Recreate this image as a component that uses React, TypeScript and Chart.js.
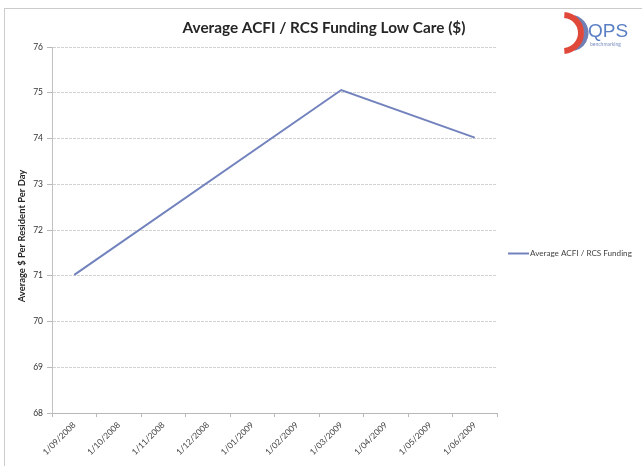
import React, { useEffect, useRef } from "react";
import { Chart, registerables } from "chart.js";

Chart.register(...registerables);

const TITLE = "Average ACFI / RCS Funding Low Care ($)";
const Y_TITLE = "Average $ Per Resident Per Day";
const SERIES_NAME = "Average ACFI / RCS Funding";
const months = [
  "1/09/2008", "1/10/2008", "1/11/2008", "1/12/2008", "1/01/2009",
  "1/02/2009", "1/03/2009", "1/04/2009", "1/05/2009", "1/06/2009",
];
const funding: (number | null)[] = [71.02, null, null, null, null, null, 75.06, null, null, 74.02];
const Y_MIN = 68;
const Y_MAX = 76;

const LINE_COLOR = "#7282bd";
const FONT = "Lato, 'Open Sans', sans-serif";

function fitFont(ctx: CanvasRenderingContext2D, text: string, weight: string, target: number) {
  ctx.font = `${weight} 20px ${FONT}`;
  const w = ctx.measureText(text).width;
  return (20 * target) / w;
}

const decor = {
  id: "decor",
  afterDraw(chart: any) {
    const ctx: CanvasRenderingContext2D = chart.ctx;
    ctx.save();
    // outer frame
    ctx.strokeStyle = "#cccccc";
    ctx.lineWidth = 1;
    ctx.strokeRect(4.5, 8.5, 640, 460);

    // title
    const ts = fitFont(ctx, TITLE, "bold", 283);
    ctx.font = `bold ${ts}px ${FONT}`;
    ctx.fillStyle = "#262626";
    ctx.textAlign = "center";
    ctx.textBaseline = "middle";
    ctx.fillText(TITLE, 324, 28);

    // y-axis title
    const ys = fitFont(ctx, Y_TITLE, "bold", 133);
    ctx.save();
    ctx.translate(22, 236);
    ctx.rotate(-Math.PI / 2);
    ctx.font = `bold ${ys}px ${FONT}`;
    ctx.fillStyle = "#262626";
    ctx.fillText(Y_TITLE, 0, 0);
    ctx.restore();

    // legend
    ctx.strokeStyle = LINE_COLOR;
    ctx.lineWidth = 2;
    ctx.beginPath();
    ctx.moveTo(508, 253.5);
    ctx.lineTo(529, 253.5);
    ctx.stroke();
    const ls = fitFont(ctx, SERIES_NAME, "normal", 102);
    ctx.font = `${ls}px ${FONT}`;
    ctx.fillStyle = "#444444";
    ctx.textAlign = "left";
    ctx.fillText(SERIES_NAME, 530, 253.5);

    // logo
    ctx.lineWidth = 5;
    ctx.strokeStyle = "#7080b4";
    ctx.beginPath();
    ctx.arc(570, 33, 16, -Math.PI / 2.4, Math.PI / 2.4);
    ctx.stroke();
    ctx.lineWidth = 6;
    ctx.strokeStyle = "#e0483a";
    ctx.beginPath();
    ctx.arc(563, 33, 18, -Math.PI / 2.1, Math.PI / 2.1);
    ctx.stroke();
    ctx.font = `19px 'Liberation Sans', Arial, sans-serif`;
    ctx.fillStyle = "#5b7fc4";
    ctx.textAlign = "left";
    ctx.fillText("QPS", 588, 32);
    ctx.font = `5px ${FONT}`;
    ctx.fillStyle = "#7a8fc0";
    ctx.fillText("benchmarking", 590, 44);
    ctx.restore();
  },
};

export default function App() {
  const ref = useRef<HTMLCanvasElement>(null);
  useEffect(() => {
    const chart = new Chart(ref.current!, {
      type: "line",
      data: {
        labels: months,
        datasets: [
          {
            label: SERIES_NAME,
            data: funding,
            borderColor: LINE_COLOR,
            backgroundColor: LINE_COLOR,
            borderWidth: 2,
            pointRadius: 0,
            spanGaps: true,
            tension: 0,
          },
        ],
      },
      options: {
        responsive: false,
        animation: false,
        layout: { padding: { left: 0, top: 47, right: 145, bottom: 0 } },
        plugins: {
          legend: { display: false },
          title: { display: false },
          tooltip: { enabled: false },
        },
        scales: {
          x: {
            type: "category",
            offset: true,
            afterFit: (s: any) => { s.height = 53; },
            grid: {
              offset: true,
              drawOnChartArea: false,
              drawTicks: true,
              tickLength: 4,
              color: "#b8b8b8",
            },
            border: { display: true, color: "#b8b8b8", width: 1 },
            ticks: {
              minRotation: 45,
              maxRotation: 45,
              autoSkip: false,
              padding: 3,
              color: "#404040",
              font: { family: FONT, size: 8.5 },
            },
          },
          y: {
            min: Y_MIN,
            max: Y_MAX,
            afterFit: (s: any) => { s.width = 52; },
            grid: {
              color: "#d2d2d2",
              tickLength: 5,
              tickColor: "#b8b8b8",
            },
            border: { display: true, color: "#c0c0c0", dash: [3, 1] },
            ticks: {
              stepSize: 1,
              padding: 4,
              color: "#333333",
              font: { family: FONT, size: 8.5 },
            },
          },
        },
      },
      plugins: [decor],
    });
    return () => chart.destroy();
  }, []);
  return (
    <div style={{ position: "fixed", left: 0, top: 0, width: 642, height: 466, background: "#fff" }}>
      <canvas ref={ref} width={642} height={466} />
    </div>
  );
}
